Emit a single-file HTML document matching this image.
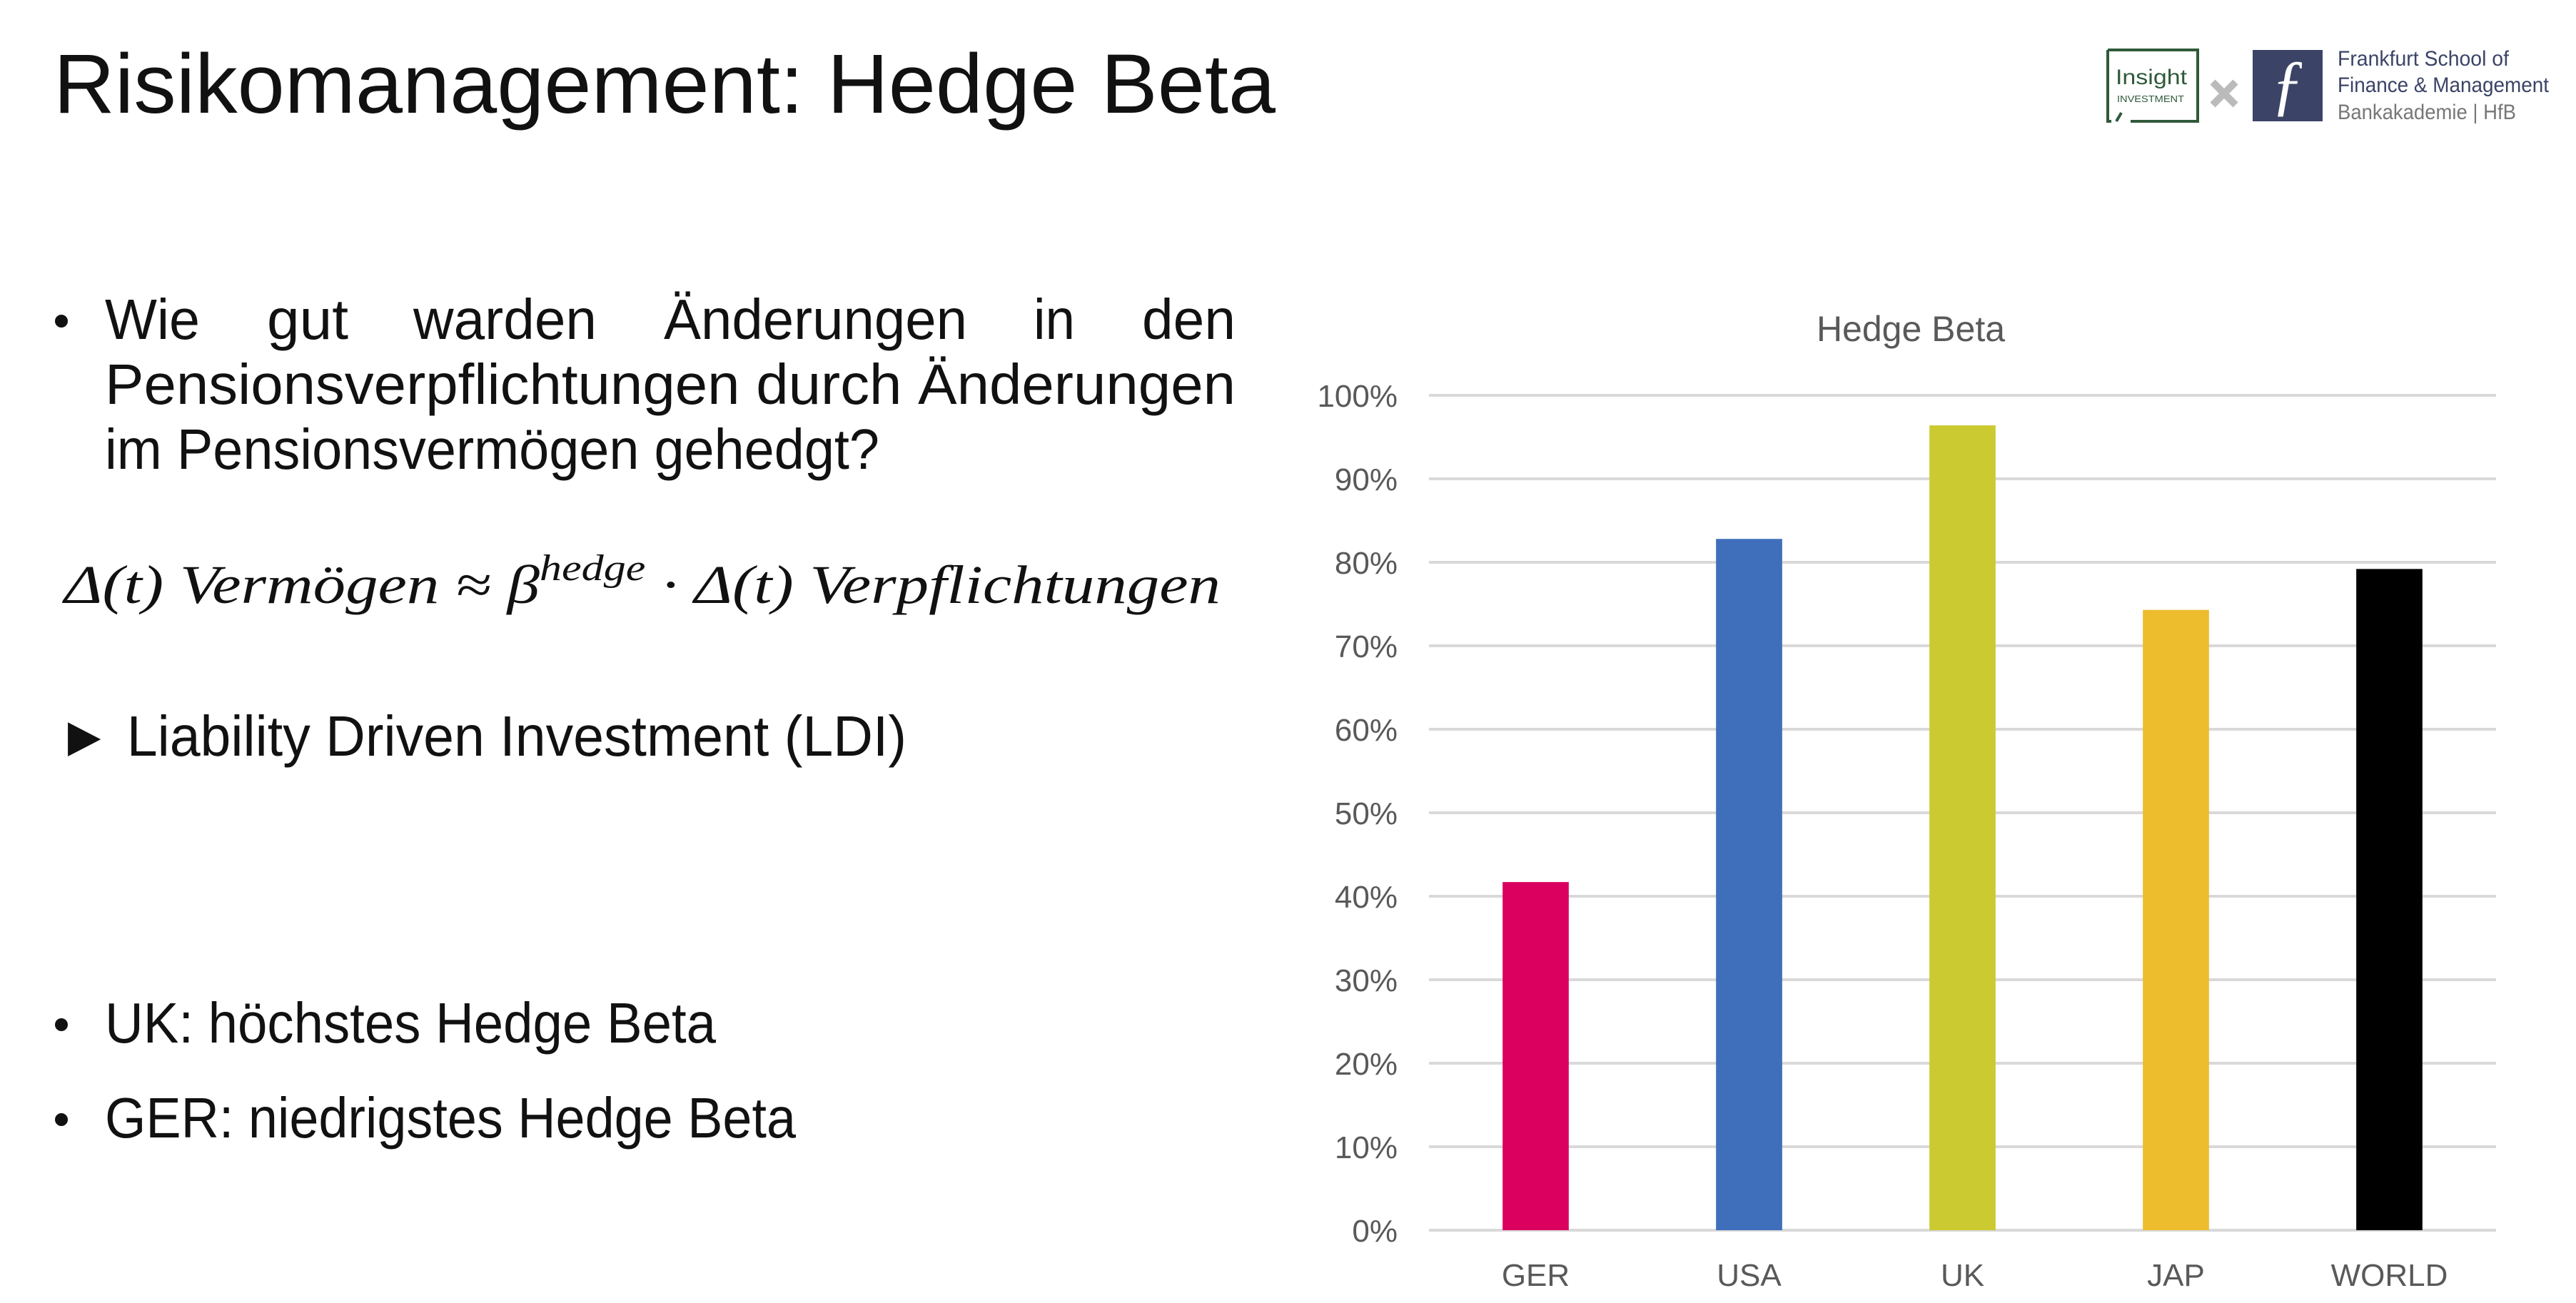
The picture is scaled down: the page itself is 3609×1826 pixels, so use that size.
<!DOCTYPE html>
<html><head><meta charset="utf-8"><style>
html,body{margin:0;padding:0;background:#fff;}
svg{display:block;font-family:"Liberation Sans",sans-serif;}
</style></head><body>
<svg id="s" width="3609" height="1826" viewBox="0 0 3609 1826" xmlns="http://www.w3.org/2000/svg">
<text x="75" y="158" font-size="118" fill="#111" textLength="1712" lengthAdjust="spacingAndGlyphs">Risikomanagement: Hedge Beta</text>

<g>
<path d="M2953 70 H3079 V170 H2985 M2965 170 L2972 158 M2953 70 V170 H2958" fill="none" stroke="#2f5a3a" stroke-width="4"/>
<text x="2964" y="118" font-size="30" fill="#2f5a3a" textLength="100" lengthAdjust="spacingAndGlyphs">Insight</text>
<text x="2966" y="143" font-size="13" fill="#2f5a3a" textLength="94" lengthAdjust="spacingAndGlyphs">INVESTMENT</text>
<path d="M3100 115 L3132 147 M3132 115 L3100 147" stroke="#bbb" stroke-width="10"/>
<rect x="3156" y="70" width="98" height="100" fill="#3b4466"/>
<text x="3205" y="150" font-size="95" fill="#fff" text-anchor="middle" font-style="italic" font-family="Liberation Serif,serif">ƒ</text>
<text x="3275" y="92" font-size="30" fill="#3b4466" textLength="240" lengthAdjust="spacingAndGlyphs">Frankfurt School of</text>
<text x="3275" y="129" font-size="30" fill="#3b4466" textLength="296" lengthAdjust="spacingAndGlyphs">Finance &amp; Management</text>
<text x="3275" y="167" font-size="30" fill="#777" textLength="250" lengthAdjust="spacingAndGlyphs">Bankakademie | HfB</text>
</g>

<g font-size="80" fill="#111">
<circle cx="86" cy="450" r="9" fill="#111"/>
<g>
<text x="147" y="475" textLength="133" lengthAdjust="spacingAndGlyphs">Wie</text>
<text x="374" y="475" textLength="114" lengthAdjust="spacingAndGlyphs">gut</text>
<text x="579" y="475" textLength="257" lengthAdjust="spacingAndGlyphs">warden</text>
<text x="930" y="475" textLength="425" lengthAdjust="spacingAndGlyphs">Änderungen</text>
<text x="1448" y="475" textLength="58" lengthAdjust="spacingAndGlyphs">in</text>
<text x="1600" y="475" textLength="131" lengthAdjust="spacingAndGlyphs">den</text>
</g>
<text x="147" y="566" textLength="1584" lengthAdjust="spacingAndGlyphs">Pensionsverpflichtungen durch Änderungen</text>
<text x="147" y="657" textLength="1085" lengthAdjust="spacingAndGlyphs">im Pensionsvermögen gehedgt?</text>
<text x="90" y="845" font-family="Liberation Serif,serif" font-style="italic" font-size="76" textLength="1620" lengthAdjust="spacingAndGlyphs">Δ(t) Vermögen ≈ β<tspan dy="-32" font-size="52">hedge</tspan><tspan dy="32"> · Δ(t) Verpflichtungen</tspan></text>
<text x="80" y="1059" textLength="1190" lengthAdjust="spacingAndGlyphs">► Liability Driven Investment (LDI)</text>
<circle cx="86" cy="1436" r="9" fill="#111"/>
<text x="147" y="1461" textLength="856" lengthAdjust="spacingAndGlyphs">UK: höchstes Hedge Beta</text>
<circle cx="86" cy="1569" r="9" fill="#111"/>
<text x="147" y="1594" textLength="968" lengthAdjust="spacingAndGlyphs">GER: niedrigstes Hedge Beta</text>
</g>

<g id="chart">
<text x="2677" y="478" font-size="50" fill="#595959" text-anchor="middle">Hedge Beta</text>
</g>
</svg>
<script>
const categories = ["GER","USA","UK","JAP","WORLD"];
const values = [41.7, 82.8, 96.4, 74.3, 79.2];
const colors = ["#db0060","#3f6fbb","#cbca30","#edbd2e","#000000"];
const tickValues = [0,10,20,30,40,50,60,70,80,90,100];
const tickLabels = ["0%","10%","20%","30%","40%","50%","60%","70%","80%","90%","100%"];

(function () {
  const NS = "http://www.w3.org/2000/svg";
  const g = document.getElementById("chart");
  const plotLeft = 2002, plotRight = 3497, plotTop = 554, plotBottom = 1724;
  const yMax = 100;
  const y = v => plotBottom - (v / yMax) * (plotBottom - plotTop);
  const band = (plotRight - plotLeft) / categories.length;
  const x = i => plotLeft + band * (i + 0.5);
  const barW = band * 0.31;

  function mk(tag, attrs) {
    const e = document.createElementNS(NS, tag);
    for (const k in attrs) e.setAttribute(k, attrs[k]);
    return e;
  }
  tickValues.forEach((t, i) => {
    const line = mk("line", {x1: plotLeft, x2: plotRight, y1: y(t), y2: y(t), stroke: "#d9d9d9", "stroke-width": 4});
    
    
    g.appendChild(line);
    const lab = mk("text", {x: 1958, y: y(t) + 16, "font-size": 44, fill: "#595959", "text-anchor": "end"});
    lab.textContent = tickLabels[i];
    
    
    g.appendChild(lab);
  });
  categories.forEach((c, i) => {
    const r = mk("rect", {x: x(i) - barW / 2, y: y(values[i]), width: barW, height: plotBottom - y(values[i]), fill: colors[i]});
    
    
    g.appendChild(r);
    const lab = mk("text", {x: x(i), y: 1802, "font-size": 44, fill: "#595959", "text-anchor": "middle"});
    lab.textContent = c;
    
    
    g.appendChild(lab);
  });
})();
</script>
</body></html>
